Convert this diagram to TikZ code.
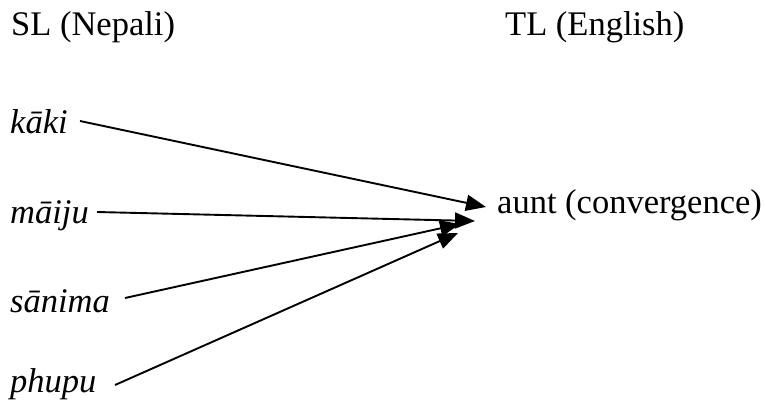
\documentclass[tikz,border=0pt]{standalone}
\usepackage{fontspec}
\setmainfont{Liberation Serif}
\usetikzlibrary{arrows.meta}
\begin{document}
\begin{tikzpicture}[x=1pt,y=-1pt,
  lbl/.style={inner sep=0pt,anchor=base west,font=\fontsize{34.5}{40}\selectfont},
  src/.style={lbl,font=\fontsize{34.5}{40}\selectfont\itshape},
  conn/.style={line width=1.9pt,-{Triangle[length=20pt,width=16pt]}}]
\useasboundingbox (0,0) rectangle (765,410);
\node[lbl] (sl) at (11,35) {SL (Nepali)};
\node[lbl] (tl) at (505,35) {TL (English)};
\node[src] (kaki) at (10,133) {kāki};
\node[src] (maiju) at (10,223) {māiju};
\node[src] (sanima) at (10,312) {sānima};
\node[src] (phupu) at (10,392) {phupu};
\node[lbl] (aunt) at (497,213) {aunt (convergence)};
\coordinate (s1) at (80,121);
\coordinate (s2) at (97,212);
\coordinate (s3) at (125,298);
\coordinate (s4) at (115,385);
\coordinate (t1) at (486,207);
\coordinate (t2) at (475,221);
\coordinate (t3) at (460,224);
\coordinate (t4) at (458,233);
\draw[conn] (s1) -- (t1);
\draw[conn] (s2) -- (t2);
\draw[conn] (s3) -- (t3);
\draw[conn] (s4) -- (t4);
\end{tikzpicture}
\end{document}
